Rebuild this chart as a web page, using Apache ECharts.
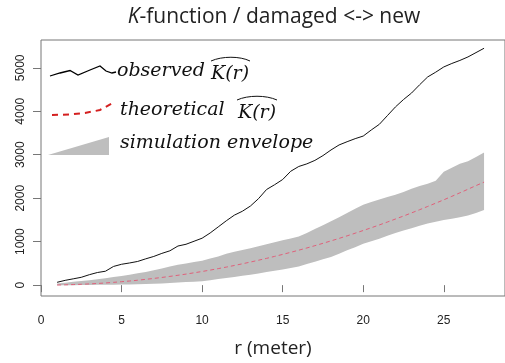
<!DOCTYPE html>
<html>
<head>
<meta charset="utf-8">
<script src="https://cdn.jsdelivr.net/npm/echarts@6/dist/echarts.min.js"></script>
<style>html,body{margin:0;padding:0;background:#fff}#c{width:505px;height:363px}</style>
</head>
<body>
<div id="c"></div>
<script>
var r = [1.0,1.5,2.0,2.5,3.0,3.5,4.0,4.5,5.0,5.5,6.0,6.5,7.0,7.5,8.0,8.5,9.0,9.5,10.0,10.5,11.0,11.5,12.0,12.5,13.0,13.5,14.0,14.5,15.0,15.5,16.0,16.5,17.0,17.5,18.0,18.5,19.0,19.5,20.0,20.5,21.0,21.5,22.0,22.5,23.0,23.5,24.0,24.5,25.0,25.5,26.0,26.5,27.0,27.5];
var observed = [65,110,145,180,240,290,320,430,480,510,545,605,660,730,790,900,940,1010,1080,1200,1340,1480,1610,1700,1820,1990,2200,2310,2430,2620,2730,2790,2870,2980,3110,3225,3300,3370,3430,3570,3700,3900,4100,4270,4420,4610,4790,4900,5020,5100,5170,5250,5350,5450];
var theoretical = [3,7,13,20,28,38,50,64,79,95,113,133,154,177,201,227,254,284,314,346,380,415,452,491,531,573,616,661,707,755,804,855,908,962,1018,1075,1134,1195,1257,1320,1385,1452,1521,1590,1662,1735,1810,1886,1963,2043,2124,2206,2290,2370];
var envLow = [0,0,0,2,4,6,8,10,12,15,20,25,32,40,50,60,70,80,90,115,140,165,190,215,240,270,300,330,360,395,430,485,540,595,650,720,800,870,950,1010,1070,1135,1200,1255,1310,1365,1420,1460,1500,1530,1560,1600,1660,1730];
var envHigh = [40,55,75,95,115,135,160,185,210,240,275,305,340,385,430,470,500,530,560,610,660,720,770,810,850,895,940,985,1030,1075,1120,1200,1290,1380,1470,1560,1660,1760,1850,1910,1970,2030,2080,2140,2220,2280,2330,2400,2610,2700,2790,2850,2950,3050];
var xTicks = [0,5,10,15,20,25];
var yTicks = [0,1000,2000,3000,4000,5000];

function pairs(ys){ return r.map(function(x,i){ return [x, ys[i]]; }); }

var chart = echarts.init(document.getElementById('c'), null, {renderer:'canvas'});
var serif = '"DejaVu Serif"';
var axisCol = '#777';
chart.setOption({
  animation:false,
  backgroundColor:'#fff',
  title:{
    text:'{i|K}-function / damaged <-> new',
    left:269, top:2, textAlign:'center',
    textStyle:{fontFamily:'Open Sans', fontSize:21, fontWeight:'normal', color:'#222',
      rich:{i:{fontFamily:'Open Sans', fontSize:21, fontStyle:'italic', color:'#222'}}}
  },
  grid:{left:41, top:40, right:-5, bottom:67, show:true, borderColor:axisCol, borderWidth:1},
  xAxis:{
    type:'value', min:0, max:28.8,
    name:'r (meter)', nameLocation:'middle', nameGap:43,
    nameTextStyle:{fontFamily:'Open Sans', fontSize:19, color:'#222'},
    axisLine:{show:false},
    axisTick:{show:true, inside:false, length:7, lineStyle:{color:axisCol}, customValues:xTicks},
    axisLabel:{fontFamily:'Liberation Sans', fontSize:12, color:'#222', margin:19, customValues:xTicks},
    splitLine:{show:false}
  },
  yAxis:{
    type:'value', min:-250, max:5640, interval:250,
    axisLine:{show:false},
    axisTick:{show:true, length:8, lineStyle:{color:axisCol}, customValues:yTicks},
    axisLabel:{fontFamily:'Liberation Sans', fontSize:12, color:'#222', rotate:90, margin:14,
      showMinLabel:false, showMaxLabel:false, hideOverlap:false, interval:0,
      formatter:function(v){ return (Math.abs(v % 1000) < 1e-6) ? String(Math.round(v)) : ''; }},
    splitLine:{show:false}
  },
  series:[
    {type:'custom', name:'envelope', silent:true, z:1,
     data:pairs(envHigh),
     renderItem:function(params, api){
       if (params.dataIndex !== 0) return null;
       var pts = [];
       for (var i=0;i<r.length;i++) pts.push(api.coord([r[i], envHigh[i]]));
       for (var j=r.length-1;j>=0;j--) pts.push(api.coord([r[j], envLow[j]]));
       return {type:'polygon', shape:{points:pts}, style:{fill:'#bebebe', stroke:null}};
     }},
    {type:'line', name:'theoretical', z:3, data:pairs(theoretical), symbol:'none', lineStyle:{color:'#e0607a', width:1, type:[4,3]}},
    {type:'line', name:'observed', z:4, data:pairs(observed), symbol:'none', lineStyle:{color:'#111', width:1}}
  ],
  graphic:[
    {type:'polyline', shape:{points:[[50,76],[60,73],[70,70.5],[78,75],[90,70],[100,66],[106,71],[112,73],[116,72]]}, style:{stroke:'#000', lineWidth:1.3, fill:null}},
    {type:'text', left:117, top:62, style:{text:'observed', font:'italic 19px '+serif, fill:'#111'}},
    {type:'text', x:230, y:74, style:{text:'K(r)', font:'italic 19px '+serif, fill:'#111', align:'center', verticalAlign:'middle'}},
    {type:'bezierCurve', shape:{x1:211,y1:61,x2:250,y2:61,cpx1:222,cpy1:56,cpx2:240,cpy2:56}, style:{stroke:'#111', lineWidth:1, fill:null}},
    {type:'polyline', shape:{points:[[52,115],[70,114.5],[85,113],[100,110],[112,103.5]]}, style:{stroke:'#d42020', lineWidth:2, lineDash:[6,5], fill:null}},
    {type:'text', left:120, top:101, style:{text:'theoretical', font:'italic 19px '+serif, fill:'#111'}},
    {type:'text', x:257, y:113, style:{text:'K(r)', font:'italic 19px '+serif, fill:'#111', align:'center', verticalAlign:'middle'}},
    {type:'bezierCurve', shape:{x1:237,y1:100,x2:277,y2:100,cpx1:248,cpy1:95,cpx2:266,cpy2:95}, style:{stroke:'#111', lineWidth:1, fill:null}},
    {type:'polygon', shape:{points:[[48,155],[109,137],[109,155]]}, style:{fill:'#bebebe'}},
    {type:'text', left:120, top:134, style:{text:'simulation envelope', font:'italic 19px '+serif, fill:'#111'}}
  ]
});
</script>
</body>
</html>
